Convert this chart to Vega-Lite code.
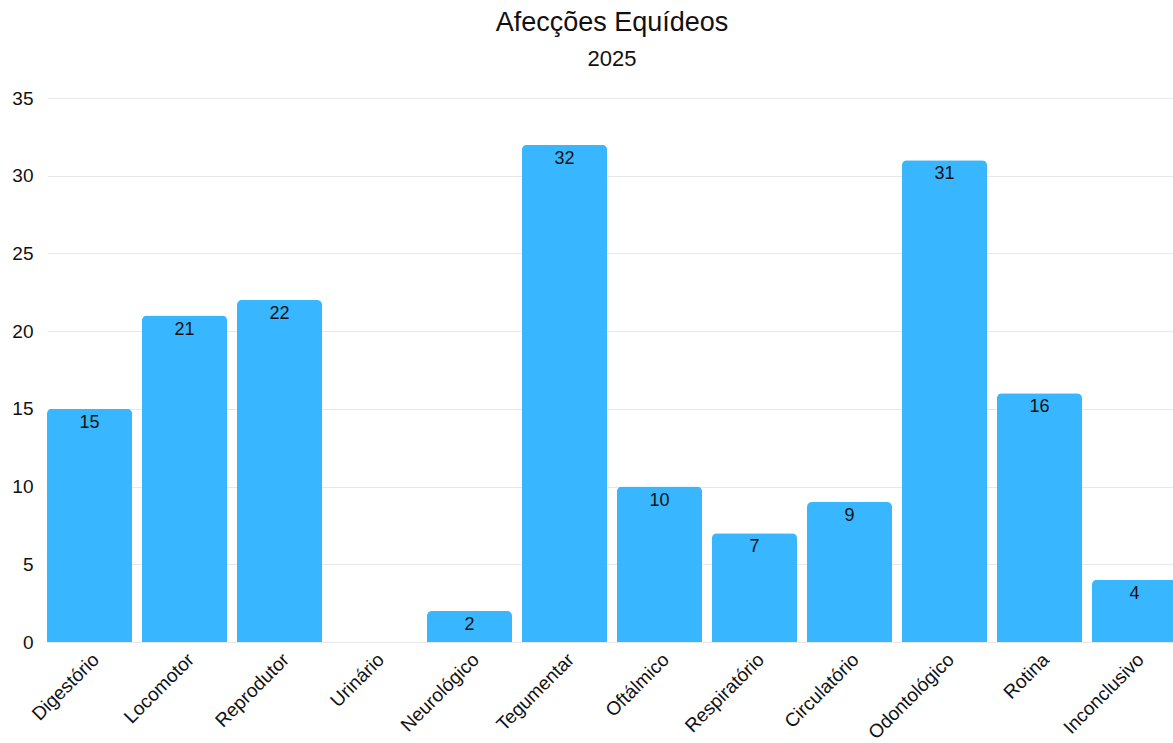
{
  "$schema": "https://vega.github.io/schema/vega-lite/v6.json",
  "autosize": "none",
  "width": 1130,
  "height": 544,
  "padding": {"left": 47, "top": 98, "right": 0, "bottom": 101},
  "background": "white",
  "title": {
    "text": "Afecções Equídeos",
    "subtitle": "2025",
    "font": "Liberation Sans",
    "subtitleFont": "Liberation Sans",
    "fontSize": 27,
    "subtitleFontSize": 22,
    "fontWeight": "normal",
    "color": "#111",
    "subtitleColor": "#111",
    "anchor": "middle",
    "offset": 18,
    "subtitlePadding": 12
  },
  "data": {
    "values": [
      {"categoria": "Digestório", "n": 15},
      {"categoria": "Locomotor", "n": 21},
      {"categoria": "Reprodutor", "n": 22},
      {"categoria": "Urinário", "n": 0},
      {"categoria": "Neurológico", "n": 2},
      {"categoria": "Tegumentar", "n": 32},
      {"categoria": "Oftálmico", "n": 10},
      {"categoria": "Respiratório", "n": 7},
      {"categoria": "Circulatório", "n": 9},
      {"categoria": "Odontológico", "n": 31},
      {"categoria": "Rotina", "n": 16},
      {"categoria": "Inconclusivo", "n": 4}
    ]
  },
  "encoding": {
    "x": {
      "field": "categoria", "type": "nominal", "sort": null,
      "scale": {"paddingInner": 0.105, "paddingOuter": 0},
      "axis": {
        "title": null, "labelAngle": -45, "domain": false, "ticks": false,
        "labelFont": "Liberation Sans", "labelFontSize": 19, "labelColor": "#111",
        "labelPadding": 8
      }
    },
    "y": {
      "field": "n", "type": "quantitative",
      "scale": {"domain": [0, 35]},
      "axis": {
        "title": null, "values": [0, 5, 10, 15, 20, 25, 30, 35], "domain": false, "ticks": false,
        "labelFont": "Liberation Sans", "labelFontSize": 19, "labelColor": "#111",
        "labelPadding": 14, "gridColor": "#e8e8e8"
      }
    }
  },
  "layer": [
    {"mark": {"type": "bar", "color": "#38B6FF", "cornerRadiusTopLeft": 5, "cornerRadiusTopRight": 5}},
    {
      "transform": [{"filter": "datum.n > 0"}],
      "mark": {"type": "text", "baseline": "top", "dy": 5, "font": "Liberation Sans", "fontSize": 18, "color": "#111"},
      "encoding": {"text": {"field": "n", "type": "quantitative"}}
    }
  ],
  "config": {"view": {"stroke": null}}
}
